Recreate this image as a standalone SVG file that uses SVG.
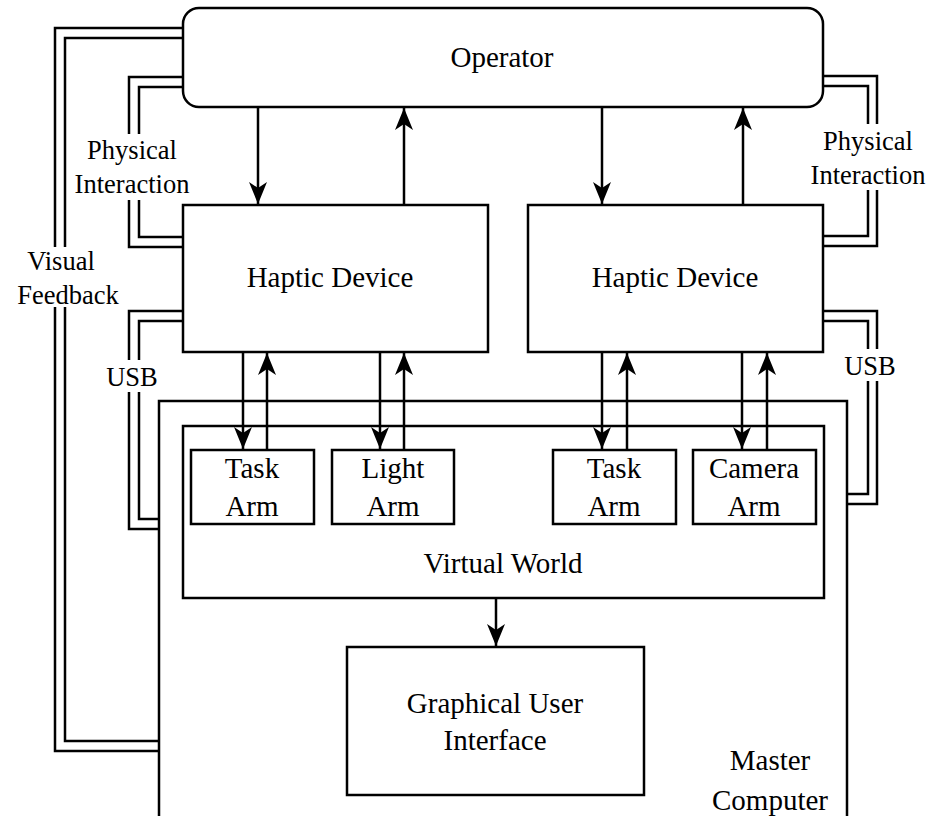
<svg xmlns="http://www.w3.org/2000/svg" width="931" height="816" viewBox="0 0 931 816">
<style>
.box{fill:#fff;stroke:#000;stroke-width:2.5}
.ln{fill:none;stroke:#000;stroke-width:2.5}
text{font-family:'Liberation Serif','Times New Roman','DejaVu Serif',serif;fill:#000;text-anchor:middle}
.t{font-size:29px}
.s{font-size:26.5px}
.bg{fill:#fff;stroke:none}
</style>
<defs>
<marker id="ah" viewBox="0 0 22 18" refX="22" refY="9" markerWidth="22" markerHeight="18" markerUnits="userSpaceOnUse" orient="auto">
<path d="M0,0 L22,9 L0,18 L6,9 Z" fill="#000"/>
</marker>
</defs>
<rect width="931" height="816" fill="#fff"/>
<g id="master">
<path class="box" d="M159,820 V401 H847 V820"/>
<text class="t" x="770" y="770">Master</text>
<text class="t" x="770" y="810">Computer</text>
</g>
<g id="virtual-world">
<rect class="box" x="183" y="426" width="641" height="172"/>
<text class="t" x="503" y="573">Virtual World</text>
</g>
<g id="operator">
<rect class="box" x="183" y="8" width="640" height="99" rx="16"/>
<text class="t" x="502" y="67">Operator</text>
</g>
<g id="haptic-left">
<rect class="box" x="183" y="205" width="305" height="147"/>
<text class="t" x="330" y="287">Haptic Device</text>
</g>
<g id="haptic-right">
<rect class="box" x="528" y="205" width="295" height="147"/>
<text class="t" x="675" y="287">Haptic Device</text>
</g>
<g id="task-arm-left">
<rect class="box" x="191" y="450" width="123" height="74"/>
<text class="t" x="252" y="478">Task</text>
<text class="t" x="252" y="516">Arm</text>
</g>
<g id="light-arm">
<rect class="box" x="332" y="450" width="122" height="74"/>
<text class="t" x="393" y="478">Light</text>
<text class="t" x="393" y="516">Arm</text>
</g>
<g id="task-arm-right">
<rect class="box" x="553" y="450" width="123" height="74"/>
<text class="t" x="614" y="478">Task</text>
<text class="t" x="614" y="516">Arm</text>
</g>
<g id="camera-arm">
<rect class="box" x="693" y="450" width="123" height="74"/>
<text class="t" x="754" y="478">Camera</text>
<text class="t" x="754" y="516">Arm</text>
</g>
<g id="gui">
<rect class="box" x="347" y="647" width="297" height="148"/>
<text class="t" x="495" y="713">Graphical User</text>
<text class="t" x="495" y="750">Interface</text>
</g>
<g id="connectors">
<line class="ln" x1="258" y1="107" x2="258" y2="204" marker-end="url(#ah)"/>
<line class="ln" x1="404" y1="205" x2="404" y2="108" marker-end="url(#ah)"/>
<line class="ln" x1="602" y1="107" x2="602" y2="204" marker-end="url(#ah)"/>
<line class="ln" x1="743" y1="205" x2="743" y2="108" marker-end="url(#ah)"/>
<line class="ln" x1="243" y1="352" x2="243" y2="449" marker-end="url(#ah)"/>
<line class="ln" x1="267" y1="450" x2="267" y2="353" marker-end="url(#ah)"/>
<line class="ln" x1="380" y1="352" x2="380" y2="449" marker-end="url(#ah)"/>
<line class="ln" x1="404" y1="450" x2="404" y2="353" marker-end="url(#ah)"/>
<line class="ln" x1="602" y1="352" x2="602" y2="449" marker-end="url(#ah)"/>
<line class="ln" x1="627" y1="450" x2="627" y2="353" marker-end="url(#ah)"/>
<line class="ln" x1="742" y1="352" x2="742" y2="449" marker-end="url(#ah)"/>
<line class="ln" x1="767" y1="450" x2="767" y2="353" marker-end="url(#ah)"/>
<line class="ln" x1="496" y1="598" x2="496" y2="646" marker-end="url(#ah)"/>
<path class="ln" d="M183,28 H55 V751 H159"/>
<path class="ln" d="M183,38 H65 V741 H159"/>
<path class="ln" d="M183,77 H129 V247 H183"/>
<path class="ln" d="M183,87 H139 V237 H183"/>
<path class="ln" d="M183,311 H129 V529 H159"/>
<path class="ln" d="M183,321 H139 V519 H159"/>
<path class="ln" d="M823,76 H877 V246 H823"/>
<path class="ln" d="M823,86 H868 V236 H823"/>
<path class="ln" d="M823,311 H877 V504 H847"/>
<path class="ln" d="M823,321 H868 V494 H847"/>
</g>
<g id="labels">
<rect class="bg" x="20" y="247" width="96" height="60"/>
<text class="s" x="61" y="270">Visual</text>
<text class="s" x="68" y="304">Feedback</text>
<rect class="bg" x="70" y="134" width="124" height="66"/>
<text class="s" x="132" y="159">Physical</text>
<text class="s" x="132" y="193">Interaction</text>
<rect class="bg" x="105" y="360" width="54" height="32"/>
<text class="s" x="132" y="386">USB</text>
<rect class="bg" x="808" y="124" width="122" height="66"/>
<text class="s" x="868" y="150">Physical</text>
<text class="s" x="868" y="184">Interaction</text>
<rect class="bg" x="843" y="349" width="54" height="32"/>
<text class="s" x="870" y="375">USB</text>
</g>
</svg>
